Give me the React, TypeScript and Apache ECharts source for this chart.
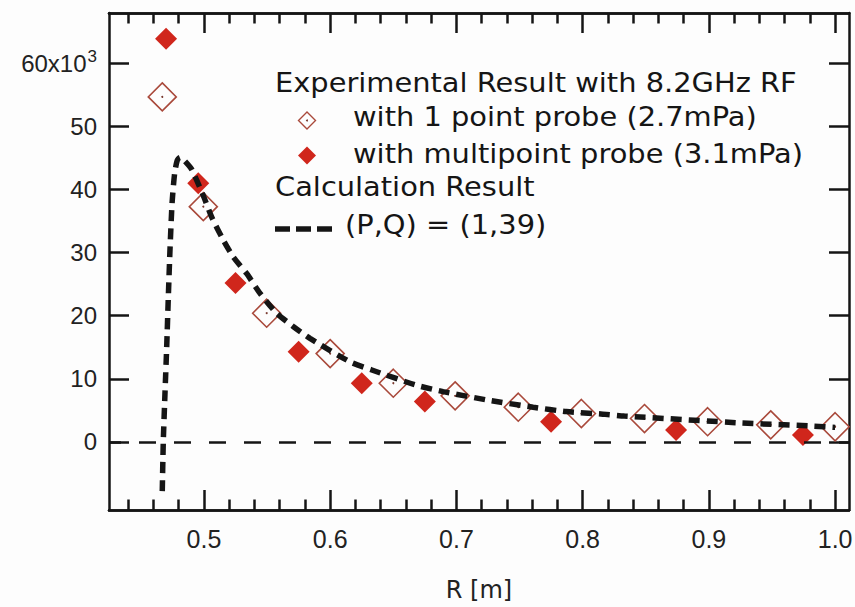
import React, { useEffect, useRef } from "react";
import * as echarts from "echarts";

// ---- data ----
const openProbeR = [0.467, 0.4995, 0.5497, 0.6, 0.65, 0.699, 0.749, 0.799, 0.849, 0.899, 0.949, 1.0];
const openProbeV = [54.7, 37.3, 20.4, 14.0, 9.3, 7.3, 5.5, 4.5, 3.7, 3.2, 2.7, 2.4];

const multiProbeR = [0.47, 0.4955, 0.525, 0.575, 0.625, 0.675, 0.775, 0.874, 0.9745];
const multiProbeV = [63.9, 41.0, 25.2, 14.3, 9.3, 6.4, 3.2, 1.9, 1.1];

const calcR = [0.467, 0.4678, 0.4692, 0.4705, 0.4718, 0.4731, 0.4748, 0.4768, 0.4788, 0.481, 0.4845, 0.4903, 0.4994, 0.506, 0.5153, 0.523, 0.5338, 0.5443, 0.5576, 0.5707, 0.584, 0.6156, 0.633, 0.668, 0.6895, 0.7238, 0.7608, 0.787, 0.816, 0.833, 0.926, 0.983, 1.0];
const calcV = [-7.8, 0, 8, 15, 23, 30.4, 38, 42.6, 44.6, 45.1, 44.6, 43.2, 39.1, 35.7, 32.0, 29.4, 26.7, 23.6, 20.4, 18.3, 16.4, 12.7, 11.4, 9.0, 7.97, 6.66, 5.5, 4.8, 4.4, 4.1, 3.0, 2.5, 2.3];

const xMajorTicks = [0.5, 0.6, 0.7, 0.8, 0.9, 1.0];
const xMinorTicks = [0.44, 0.46, 0.48, 0.52, 0.54, 0.56, 0.58, 0.62, 0.64, 0.66, 0.68, 0.72, 0.74, 0.76, 0.78, 0.82, 0.84, 0.86, 0.88, 0.92, 0.94, 0.96, 0.98];
const yTicks = [0, 10, 20, 30, 40, 50, 60];

const legendHeader1 = "Experimental Result with 8.2GHz RF";
const legendItem1 = "with 1 point probe (2.7mPa)";
const legendItem2 = "with multipoint probe (3.1mPa)";
const legendHeader2 = "Calculation Result";
const legendItem3 = "(P,Q) = (1,39)";
const xAxisName = "R [m]";

const X_MIN = 0.4248;
const X_MAX = 1.011;
const Y_MIN = -10.8;
const Y_MAX = 68;

const INK = "#151515";
const OPEN_COLOR = "#a9493b";
const FILL_COLOR = "#d0261c";
const AXIS_FONT = "Liberation Sans";
const LEG_FONT = "DejaVu Sans";

export default function App() {
  const ref = useRef<HTMLDivElement>(null);

  useEffect(() => {
    if (!ref.current) return;
    const chart = echarts.init(ref.current, null, { renderer: "svg" });

    const openData = openProbeR.map((r, i) => [r, openProbeV[i]]);
    const fillData = multiProbeR.map((r, i) => [r, multiProbeV[i]]);
    const calcData = calcR.map((r, i) => [r, calcV[i]]);

    const axisLine = { show: true, onZero: false, lineStyle: { color: INK, width: 2.5 } };
    const tickStyle = { color: INK, width: 2.5 };

    const baseX = {
      type: "value",
      min: X_MIN,
      max: X_MAX,
      splitLine: { show: false },
      axisLine,
    };

    const legText = (text: string, x: number, y: number) => ({
      type: "text",
      x,
      y,
      scaleX: 1.07,
      style: {
        text,
        fontSize: 27,
        fontFamily: LEG_FONT,
        fill: INK,
        verticalAlign: "middle",
        textVerticalAlign: "middle",
      },
    });

    const option: any = {
      animation: false,
      backgroundColor: "#fdfdfd",
      grid: { left: 109, right: 6, top: 13, bottom: 97, containLabel: false, outerBoundsMode: "none" },
      xAxis: [
        {
          ...baseX,
          position: "bottom",
          axisTick: { show: true, inside: true, length: 20, customValues: xMajorTicks, lineStyle: tickStyle },
          axisLabel: {
            show: true,
            customValues: xMajorTicks,
            formatter: (v: number) => v.toFixed(1),
            fontSize: 25,
            fontFamily: AXIS_FONT,
            color: "#222",
            margin: 16,
          },
          name: xAxisName,
          nameLocation: "middle",
          nameGap: 68,
          nameTextStyle: { fontSize: 24, fontFamily: LEG_FONT, color: "#222" },
        },
        {
          ...baseX,
          position: "bottom",
          axisTick: { show: true, inside: true, length: 10.5, customValues: xMinorTicks, lineStyle: tickStyle },
          axisLabel: { show: false },
        },
        {
          ...baseX,
          position: "top",
          axisTick: { show: true, inside: true, length: 20, customValues: xMajorTicks, lineStyle: tickStyle },
          axisLabel: { show: false },
        },
        {
          ...baseX,
          position: "top",
          axisTick: { show: true, inside: true, length: 10.5, customValues: xMinorTicks, lineStyle: tickStyle },
          axisLabel: { show: false },
        },
      ],
      yAxis: [
        {
          type: "value",
          position: "left",
          min: Y_MIN,
          max: Y_MAX,
          splitLine: { show: false },
          axisLine,
          axisTick: { show: true, inside: true, length: 20, customValues: yTicks, lineStyle: tickStyle },
          axisLabel: {
            show: true,
            customValues: yTicks,
            margin: 12,
            formatter: (v: number) => (v === 60 ? "{a|60x10}{s|3}" : "{a|" + v + "}"),
            rich: {
              a: { fontSize: 24, fontFamily: AXIS_FONT, color: "#222" },
              s: { fontSize: 17, fontFamily: AXIS_FONT, color: "#222", padding: [0, 0, 14, 1] },
            },
          },
        },
        {
          type: "value",
          position: "right",
          min: Y_MIN,
          max: Y_MAX,
          splitLine: { show: false },
          axisLine,
          axisTick: { show: true, inside: true, length: 20, customValues: yTicks, lineStyle: tickStyle },
          axisLabel: { show: false },
        },
      ],
      series: [
        {
          name: legendItem1,
          type: "scatter",
          data: openData,
          symbol: "diamond",
          symbolSize: 28,
          itemStyle: { color: "rgba(255,255,255,0)", borderColor: OPEN_COLOR, borderWidth: 1.6, opacity: 1 },
          z: 2,
        },
        {
          name: "center dots",
          type: "scatter",
          data: openData,
          symbol: "circle",
          symbolSize: 2,
          itemStyle: { color: "#7a3a30", opacity: 1 },
          silent: true,
          z: 2,
        },
        {
          name: legendItem2,
          type: "scatter",
          data: fillData,
          symbol: "diamond",
          symbolSize: 22,
          itemStyle: { color: FILL_COLOR, opacity: 1 },
          z: 2,
          markLine: {
            silent: true,
            symbol: ["none", "none"],
            label: { show: false },
            lineStyle: { color: INK, width: 2.5, type: [17, 18], dashOffset: 5, opacity: 1 },
            data: [{ yAxis: 0 }],
          },
        },
        {
          name: legendItem3,
          type: "line",
          data: calcData,
          showSymbol: false,
          smooth: 0.2,
          lineStyle: { color: INK, width: 5.5, type: [11, 7] },
          z: 3,
        },
      ],
      graphic: [
        legText(legendHeader1, 275, 82.5),
        legText(legendItem1, 353, 117),
        legText(legendItem2, 353, 153.5),
        legText(legendHeader2, 275, 187),
        legText(legendItem3, 345, 225),
        {
          type: "polygon",
          shape: { points: [[307, 112], [315.5, 120.5], [307, 129], [298.5, 120.5]] },
          style: { fill: "rgba(255,255,255,0)", stroke: OPEN_COLOR, lineWidth: 1.4 },
        },
        {
          type: "circle",
          shape: { cx: 307, cy: 120.5, r: 1 },
          style: { fill: "#7a3a30" },
        },
        {
          type: "polygon",
          shape: { points: [[307, 146.5], [316, 155.5], [307, 164.5], [298, 155.5]] },
          style: { fill: FILL_COLOR },
        },
        {
          type: "line",
          shape: { x1: 275, y1: 229, x2: 332, y2: 229 },
          style: { stroke: INK, lineWidth: 5.5, lineDash: [15, 6] },
        },
      ],
    };

    chart.setOption(option);
    return () => chart.dispose();
  }, []);

  return (
    <div
      ref={ref}
      style={{ position: "fixed", left: 0, top: 0, width: 855, height: 607 }}
    />
  );
}
